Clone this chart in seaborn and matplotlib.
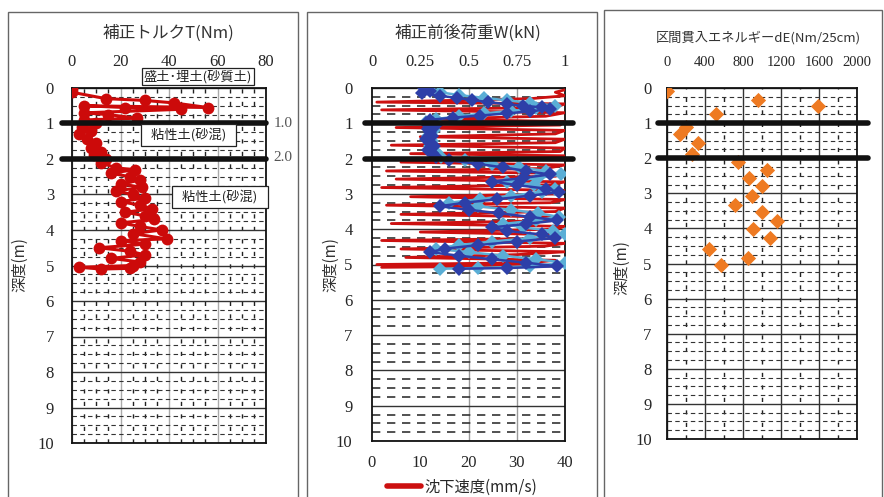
import matplotlib
matplotlib.use('Agg')
import matplotlib.pyplot as plt
import matplotlib.transforms as mtransforms
from matplotlib.patches import Rectangle
from matplotlib.lines import Line2D
from matplotlib.ticker import MultipleLocator
import seaborn as sns
import pandas as pd

# 補正トルク T (Nm) vs 深度 (m)
torque_depth = [0.02, 0.12, 0.30, 0.35, 0.42, 0.55, 0.50, 0.55, 0.60, 0.70, 0.75, 0.85, 0.90,
                1.00, 1.10, 1.20, 1.30, 1.45, 1.55, 1.70, 1.80, 1.90, 2.00, 2.10, 2.25, 2.30,
                2.40, 2.50, 2.60, 2.70, 2.80, 2.90, 3.00, 3.10, 3.20, 3.30, 3.40, 3.50, 3.60,
                3.70, 3.80, 3.90, 4.00, 4.10, 4.25, 4.30, 4.40, 4.50, 4.60, 4.70, 4.80, 4.90,
                5.00, 5.05, 5.10, 5.08]
torque_value = [0, 0, 14, 30, 42, 56, 5, 22, 45, 5, 15, 27, 5,
                10, 4, 8, 3, 6, 10, 8, 12, 9, 14, 12, 18, 26,
                16, 24, 28, 20, 29, 18, 25, 30, 20, 28, 33, 22, 30,
                34, 20, 28, 37, 25, 39, 20, 30, 11, 24, 30, 16, 28,
                25, 3, 12, 24]

# 補正前後荷重 W (kN)
w_pre_depth = [0.00, 0.08, 0.15, 0.22, 0.28, 0.34, 0.40, 0.46, 0.50, 0.55, 0.60, 0.66, 0.72,
               0.78, 0.84, 0.90, 0.98, 1.05, 1.15, 1.25, 1.35, 1.45, 1.55, 1.65, 1.75, 1.85,
               1.95, 2.05, 2.15, 2.25, 2.35, 2.45, 2.55, 2.65, 2.75, 2.85, 2.95, 3.05, 3.15,
               3.25, 3.35, 3.45, 3.55, 3.65, 3.75, 3.85, 3.95, 4.05, 4.15, 4.25, 4.35, 4.45,
               4.55, 4.65, 4.75, 4.85, 4.95, 5.05, 5.10, 5.12]
w_pre_value = [0.27, 0.30, 0.26, 0.35, 0.44, 0.52, 0.60, 0.70, 0.78, 0.88, 0.92, 0.82, 0.70,
               0.56, 0.42, 0.30, 0.28, 0.33, 0.29, 0.30, 0.31, 0.28, 0.30, 0.32, 0.29, 0.31,
               0.33, 0.40, 0.55, 0.68, 0.80, 0.92, 0.78, 0.62, 0.75, 0.90, 0.97, 0.82, 0.65,
               0.48, 0.35, 0.50, 0.66, 0.82, 0.96, 0.80, 0.62, 0.70, 0.88, 0.95, 0.75, 0.55,
               0.38, 0.30, 0.45, 0.62, 0.80, 0.96, 0.70, 0.45]
w_post_depth = [0.05, 0.12, 0.20, 0.28, 0.35, 0.42, 0.50, 0.58, 0.65, 0.72, 0.80, 0.88, 0.95,
                1.05, 1.20, 1.35, 1.50, 1.65, 1.80, 1.95, 2.05, 2.15, 2.25, 2.35, 2.45, 2.55,
                2.65, 2.75, 2.85, 2.95, 3.05, 3.15, 3.25, 3.35, 3.45, 3.55, 3.65, 3.75, 3.85,
                3.95, 4.05, 4.15, 4.25, 4.35, 4.45, 4.55, 4.65, 4.75, 4.85, 4.95, 5.05, 5.10,
                5.12]
w_post_value = [0.30, 0.35, 0.45, 0.58, 0.70, 0.82, 0.95, 0.85, 0.72, 0.58, 0.45, 0.33, 0.28,
                0.30, 0.32, 0.29, 0.31, 0.30, 0.33, 0.36, 0.48, 0.62, 0.76, 0.90, 0.98, 0.86,
                0.70, 0.84, 0.95, 0.88, 0.72, 0.56, 0.40, 0.55, 0.72, 0.86, 0.97, 0.85, 0.68,
                0.78, 0.94, 1.00, 0.82, 0.62, 0.45, 0.33, 0.50, 0.68, 0.85, 1.00, 0.82, 0.55,
                0.35]

# 沈下速度 (mm/s)
speed_depth = [0.05, 0.12, 0.22, 0.30, 0.40, 0.45, 0.55, 0.62, 0.70, 0.80, 0.88, 0.95, 1.05,
               1.12, 1.20, 1.30, 1.38, 1.45, 1.55, 1.62, 1.70, 1.80, 1.86, 1.92, 2.02, 2.10,
               2.18, 2.28, 2.35, 2.42, 2.50, 2.58, 2.66, 2.74, 2.82, 2.90, 3.00, 3.08, 3.16,
               3.25, 3.32, 3.40, 3.50, 3.58, 3.66, 3.76, 3.84, 3.92, 4.00, 4.08, 4.16, 4.26,
               4.32, 4.40, 4.48, 4.56, 4.64, 4.72, 4.80, 4.88, 4.95, 5.00, 5.04, 5.08]
speed_value = [40, 38, 40, 33, 1, 40, 38, 2, 40, 36, 12, 40, 39,
               5, 40, 38, 10, 40, 38, 4, 40, 39, 8, 40, 37, 6,
               40, 36, 3, 40, 38, 5, 40, 37, 2, 40, 38, 8, 40,
               37, 3, 40, 38, 6, 40, 37, 4, 40, 38, 10, 40, 37,
               2, 40, 36, 6, 40, 30, 7, 38, 33, 1, 40, 2]

# 区間貫入エネルギー dE (Nm/25cm)
energy_depth = [0.08, 0.34, 0.51, 0.75, 1.10, 1.31, 1.58, 1.88, 2.10, 2.34, 2.57, 2.78, 3.09,
                3.33, 3.52, 3.78, 4.03, 4.28, 4.60, 4.85, 5.04]
energy_value = [0, 958, 1587, 516, 197, 137, 323, 260, 751, 1049, 867, 1004, 891,
                716, 1004, 1155, 909, 1084, 446, 856, 565]

sns.set_theme(style="white")
plt.rcParams['font.family'] = ['Liberation Serif', 'Noto Sans CJK JP']
JP = ['Noto Sans CJK JP', 'DejaVu Sans']

fig = plt.figure(figsize=(8.84, 4.97), dpi=100)
W, H = 884, 497


def px_axes(x0, y0, x1, y1):
    return fig.add_axes([x0 / W, 1 - y1 / H, (x1 - x0) / W, (y1 - y0) / H])


def frame(x0, y0, x1):
    fig.patches.append(Rectangle((x0 / W, -0.05), (x1 - x0) / W, 1.05 - y0 / H,
                                 transform=fig.transFigure, fill=False,
                                 edgecolor='#666666', lw=1.0))


def style_depth(ax, xminor, vgrid, hdash=(0, (4, 3)), hlw=0.8):
    ax.set_ylim(10, 0)
    ax.yaxis.set_major_locator(MultipleLocator(1))
    ax.yaxis.set_minor_locator(MultipleLocator(0.25))
    ax.grid(which='major', axis='y', color='#333333', lw=1.0)
    ax.grid(which='minor', axis='y', color='#333333', lw=hlw, linestyle=hdash)
    if xminor:
        ax.xaxis.set_minor_locator(MultipleLocator(xminor))
        ax.grid(which='minor', axis='x', color='#222222', lw=1.0, linestyle=(0, (3, 6)))
    if vgrid != 'none':
        ax.grid(which='major', axis='x', color=vgrid, lw=1.0)
    ax.tick_params(which='minor', length=0)
    ax.tick_params(which='major', length=0)
    for s in ax.spines.values():
        s.set_color('#111111')
        s.set_linewidth(1.3)
    ax.set_xlabel('')
    ax.set_ylabel('')
    ax.set_axisbelow(True)


def thick_lines(ax, x0, x1):
    tr = mtransforms.blended_transform_factory(ax.transAxes, ax.transData)
    for d in (1, 2):
        ax.plot([x0, x1], [d, d], transform=tr, color='#111111', lw=4, clip_on=False, zorder=5)


frame(8, 12, 298)
frame(307, 12, 597)
frame(604, 10, 882)

# ---- 補正トルク ----
ax1 = px_axes(72, 88, 266, 443)
df1 = pd.DataFrame({'T': torque_value, 'depth': torque_depth})
sns.lineplot(data=df1, x='T', y='depth', sort=False, estimator=None, ax=ax1,
             color='#cc0a0a', lw=2.2, marker='o', markersize=8.5, markeredgewidth=0, zorder=4)
ax1.set_xlim(0, 80)
ax1.xaxis.set_major_locator(MultipleLocator(20))
style_depth(ax1, 5, '#aaaaaa')
ax1.xaxis.tick_top()
ax1.tick_params(axis='x', pad=13, labelsize=12)
ax1.tick_params(axis='y', pad=13, labelsize=12)
thick_lines(ax1, -0.05, 1.0)
tr1 = mtransforms.blended_transform_factory(ax1.transAxes, ax1.transData)
ax1.text(52, -0.32, '盛土･埋土(砂質土)', family=JP, fontsize=9.5, ha='center', va='center',
         bbox=dict(boxstyle='square,pad=0.15', facecolor='white', edgecolor='#222222', lw=0.9),
         clip_on=False, color='#222222')
ax1.text(48, 1.32, '  粘性土(砂混)  ', family=JP, fontsize=9.5, ha='center', va='center',
         bbox=dict(boxstyle='square,pad=0.3', facecolor='white', edgecolor='#222222', lw=0.9),
         zorder=6, color='#222222')
ax1.text(61, 3.07, '  粘性土(砂混)  ', family=JP, fontsize=9.5, ha='center', va='center',
         bbox=dict(boxstyle='square,pad=0.3', facecolor='white', edgecolor='#222222', lw=0.9),
         zorder=6, clip_on=False, color='#222222')
ax1.text(1.04, 1.0, '1.0', transform=tr1, fontsize=11, va='center', ha='left', color='#555555')
ax1.text(1.04, 1.97, '2.0', transform=tr1, fontsize=11, va='center', ha='left', color='#555555')
fig.text(168 / W, 1 - 33 / H, '補正トルクT(Nm)', family=JP, fontsize=12, ha='center', va='center',
         color='#333333')
fig.text(20 / W, 1 - 265 / H, '深度(m)', family=JP, fontsize=11, rotation=90, ha='center',
         va='center', color='#333333')

# ---- 沈下速度 (下軸) / 補正前後荷重 (上軸) ----
ax2 = px_axes(372, 88, 565, 441)
df_sp = pd.DataFrame({'speed': speed_value, 'depth': speed_depth})
sns.lineplot(data=df_sp, x='speed', y='depth', sort=False, estimator=None, ax=ax2,
             color='#cc1010', lw=2.0, zorder=4)
ax2.set_xlim(0, 40)
ax2.xaxis.set_major_locator(MultipleLocator(10))
style_depth(ax2, None, 'none', hdash=(0, (5, 4)), hlw=1.2)
for xv in (20, 30):
    ax2.axvline(xv, color='#999999', lw=1.0, zorder=0)
ax2.tick_params(axis='x', pad=10, labelsize=12)
ax2.tick_params(axis='y', pad=14, labelsize=12)

ax2b = ax2.twiny()
df_pre = pd.DataFrame({'W': w_pre_value, 'depth': w_pre_depth})
df_post = pd.DataFrame({'W': w_post_value, 'depth': w_post_depth})
sns.lineplot(data=df_post, x='W', y='depth', sort=False, estimator=None, ax=ax2b,
             color='#5aaed6', lw=1.8, marker='D', markersize=7, markeredgewidth=0)
sns.lineplot(data=df_pre, x='W', y='depth', sort=False, estimator=None, ax=ax2b,
             color='#2d3fa8', lw=1.8, marker='D', markersize=7, markeredgewidth=0)
ax2b.set_xlim(0, 1)
ax2b.set_ylim(10, 0)
ax2b.xaxis.set_major_locator(MultipleLocator(0.25))
ax2b.xaxis.set_major_formatter(plt.FuncFormatter(lambda v, p: f'{v:g}'))
ax2b.xaxis.tick_top()
ax2b.tick_params(axis='x', pad=13, labelsize=12, length=0)
ax2b.set_xlabel('')
ax2b.set_ylabel('')
for s in ax2b.spines.values():
    s.set_visible(False)
thick_lines(ax2b, -0.036, 1.04)
fig.text(468 / W, 1 - 33 / H, '補正前後荷重W(kN)', family=JP, fontsize=12, ha='center', va='center',
         color='#333333')
fig.text(331 / W, 1 - 265 / H, '深度(m)', family=JP, fontsize=11, rotation=90, ha='center',
         va='center', color='#333333')
fig.legend(handles=[Line2D([], [], color='#cc1010', lw=4)], labels=['沈下速度(mm/s)'],
           loc='center', bbox_to_anchor=(462 / W, 1 - 487 / H), frameon=False,
           prop={'family': JP, 'size': 11}, handlelength=2.2, handletextpad=0.2)

# ---- 区間貫入エネルギー ----
ax3 = px_axes(667, 88, 857, 439)
df3 = pd.DataFrame({'dE': energy_value, 'depth': energy_depth})
sns.scatterplot(data=df3, x='dE', y='depth', ax=ax3, color='#ee7a22', marker='D', s=60,
                linewidth=0, zorder=4)
ax3.set_xlim(0, 2000)
ax3.xaxis.set_major_locator(MultipleLocator(400))
style_depth(ax3, 200, '#333333')
ax3.xaxis.tick_top()
ax3.tick_params(axis='x', pad=14, labelsize=10.5)
ax3.tick_params(axis='y', pad=11, labelsize=12)
thick_lines(ax3, -0.047, 1.058)
fig.text(758 / W, 1 - 38 / H, '区間貫入エネルギーdE(Nm/25cm)', family=JP, fontsize=9.5,
         ha='center', va='center', color='#333333')
fig.text(622 / W, 1 - 268 / H, '深度(m)', family=JP, fontsize=11, rotation=90, ha='center',
         va='center', color='#333333')

fig.savefig('out.png', dpi=100)
